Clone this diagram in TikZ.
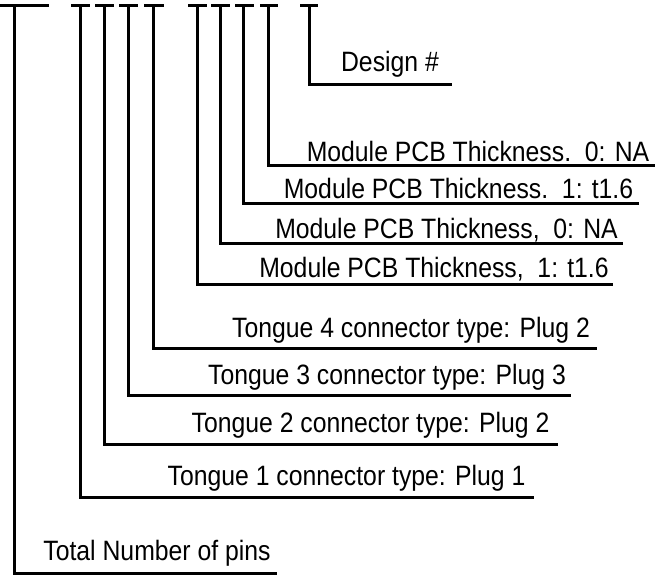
\documentclass[tikz,border=0pt]{standalone}
\usepackage{fontspec}
\setmainfont[FakeStretch=0.885]{Liberation Sans}
\usepackage{tikz}
\usepackage{tkz-euclide}

\tikzset{
  lead/.style={line width=1.5pt,line cap=rect},
  lbl/.style={anchor=base,inner sep=0pt,font=\fontsize{14}{16}\selectfont}
}

\begin{document}
\begin{tikzpicture}[x=0.5pt,y=-0.5pt]
\useasboundingbox (0,0) rectangle (662,581);

% stem tops
\tkzDefPoint( 14,6){s0}
\tkzDefPoint( 80,6){s1}
\tkzDefPoint(104,6){s2}
\tkzDefPoint(128,6){s3}
\tkzDefPoint(153,6){s4}
\tkzDefPoint(197,6){s5}
\tkzDefPoint(220,6){s6}
\tkzDefPoint(243,6){s7}
\tkzDefPoint(268,6){s8}
\tkzDefPoint(309,6){s9}

% caps on the stems
\tkzDefPoint(  0,6){a0} \tkzDefPoint( 47,6){b0}
\tkzDefPoint( 72,6){a1} \tkzDefPoint( 88,6){b1}
\tkzDefPoint( 96,6){a2} \tkzDefPoint(112,6){b2}
\tkzDefPoint(120,6){a3} \tkzDefPoint(136,6){b3}
\tkzDefPoint(145,6){a4} \tkzDefPoint(162,6){b4}
\tkzDefPoint(189,6){a5} \tkzDefPoint(205,6){b5}
\tkzDefPoint(212,6){a6} \tkzDefPoint(228,6){b6}
\tkzDefPoint(236,6){a7} \tkzDefPoint(252,6){b7}
\tkzDefPoint(261,6){a8} \tkzDefPoint(276,6){b8}
\tkzDefPoint(301,6){a9} \tkzDefPoint(316,6){b9}

% corners
\tkzDefPoint( 14,573){k0}
\tkzDefPoint( 80,497){k1}
\tkzDefPoint(104,444){k2}
\tkzDefPoint(128,396){k3}
\tkzDefPoint(153,349){k4}
\tkzDefPoint(197,285){k5}
\tkzDefPoint(220,244){k6}
\tkzDefPoint(243,204){k7}
\tkzDefPoint(268,166){k8}
\tkzDefPoint(309, 85){k9}

% line ends
\tkzDefPoint(275,573){e0}
\tkzDefPoint(532,497){e1}
\tkzDefPoint(556,444){e2}
\tkzDefPoint(569,396){e3}
\tkzDefPoint(595,349){e4}
\tkzDefPoint(611,285){e5}
\tkzDefPoint(621,244){e6}
\tkzDefPoint(637,204){e7}
\tkzDefPoint(653,166){e8}
\tkzDefPoint(450, 85){e9}

\tkzDrawSegments[lead](a0,b0 a1,b1 a2,b2 a3,b3 a4,b4 a5,b5 a6,b6 a7,b7 a8,b8 a9,b9)

\tkzDrawPolySeg[lead](s0,k0,e0)
\tkzDrawPolySeg[lead](s1,k1,e1)
\tkzDrawPolySeg[lead](s2,k2,e2)
\tkzDrawPolySeg[lead](s3,k3,e3)
\tkzDrawPolySeg[lead](s4,k4,e4)
\tkzDrawPolySeg[lead](s5,k5,e5)
\tkzDrawPolySeg[lead](s6,k6,e6)
\tkzDrawPolySeg[lead](s7,k7,e7)
\tkzDrawPolySeg[lead](s8,k8,e8)
\tkzDrawPolySeg[lead](s9,k9,e9)

\node[lbl] (pins)  at (157,560)   {Total Number of pins};
\node[lbl] (tong1) at (346.5,485) {Tongue 1 connector type: Plug 1};
\node[lbl] (tong2) at (370.5,432) {Tongue 2 connector type: Plug 2};
\node[lbl] (tong3) at (387,385)   {Tongue 3 connector type: Plug 3};
\node[lbl] (tong4) at (411,338)   {Tongue 4 connector type: Plug 2};
\node[lbl] (pcb1)  at (434,278)   {Module PCB Thickness,\ \ 1: t1.6};
\node[lbl] (pcb2)  at (446.5,239) {Module PCB Thickness,\ \ 0: NA};
\node[lbl] (pcb3)  at (458.5,199) {Module PCB Thickness.\ \ 1: t1.6};
\node[lbl] (pcb4)  at (478,162)   {Module PCB Thickness.\ \ 0: NA};
\node[lbl] (dsgn)  at (390,72)    {Design \#};

\end{tikzpicture}
\end{document}
